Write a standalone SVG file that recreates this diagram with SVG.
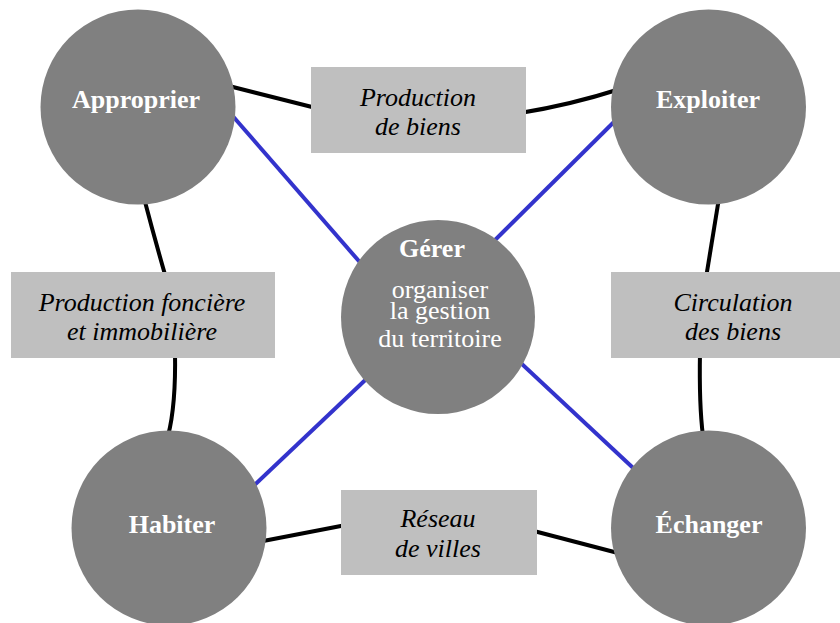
<svg xmlns="http://www.w3.org/2000/svg" width="840" height="623" viewBox="0 0 840 623">
<style>
.c{fill:#808080}
.b{fill:#bfbfbf}
.ct{font-family:"Liberation Serif","Times New Roman",serif;font-size:26px;fill:#ffffff;text-anchor:middle}
.bold{font-weight:bold}
.bt{font-family:"Liberation Serif","Times New Roman",serif;font-size:26px;font-style:italic;fill:#000000;text-anchor:middle}
.k{stroke:#000000;stroke-width:4;fill:none}
.u{stroke:#3333cc;stroke-width:4;fill:none}
</style>
<rect width="840" height="623" fill="#ffffff"/>
<g id="connectors">
<line class="u" x1="217" y1="98" x2="371" y2="275"/>
<line class="u" x1="627" y1="109" x2="483" y2="252"/>
<line class="u" x1="243" y1="496" x2="379" y2="367"/>
<line class="u" x1="509" y1="352" x2="646" y2="480"/>
<path class="k" d="M225,85 L316,108"/>
<path class="k" d="M520,113 Q570,105 620,89"/>
<path class="k" d="M144,198 Q155,240 166,278"/>
<path class="k" d="M719,198 Q712,240 706,278"/>
<path class="k" d="M175,352 Q176,405 168,436"/>
<path class="k" d="M700,352 Q699,405 703,436"/>
<path class="k" d="M258,542 L346,525"/>
<path class="k" d="M530,530 L618,553"/>
</g>
<g id="box-production-biens">
<rect class="b" x="311" y="67" width="215" height="86"/>
<text class="bt" x="418" y="106">Production</text>
<text class="bt" x="418" y="135">de biens</text>
</g>
<g id="box-production-fonciere">
<rect class="b" x="11" y="272" width="264" height="86"/>
<text class="bt" x="142" y="311">Production foncière</text>
<text class="bt" x="142" y="340">et immobilière</text>
</g>
<g id="box-circulation">
<rect class="b" x="611" y="272" width="244" height="86"/>
<text class="bt" x="733" y="311">Circulation</text>
<text class="bt" x="733" y="340">des biens</text>
</g>
<g id="box-reseau">
<rect class="b" x="341" y="490" width="196" height="85"/>
<text class="bt" x="438" y="527">Réseau</text>
<text class="bt" x="438" y="557">de villes</text>
</g>
<g id="node-approprier">
<circle class="c" cx="138" cy="107" r="97.5"/>
<text class="ct bold" x="136" y="108">Approprier</text>
</g>
<g id="node-exploiter">
<circle class="c" cx="708.5" cy="107" r="97.5"/>
<text class="ct bold" x="708" y="108">Exploiter</text>
</g>
<g id="node-habiter">
<circle class="c" cx="169" cy="528" r="97.5"/>
<text class="ct bold" x="172" y="533">Habiter</text>
</g>
<g id="node-echanger">
<circle class="c" cx="708.5" cy="528" r="97.5"/>
<text class="ct bold" x="709" y="533">Échanger</text>
</g>
<g id="node-gerer">
<circle class="c" cx="438" cy="317" r="97"/>
<text class="ct bold" x="432" y="257">Gérer</text>
<text class="ct" x="440" y="298">organiser</text>
<text class="ct" x="440" y="319">la gestion</text>
<text class="ct" x="440" y="347">du territoire</text>
</g>
</svg>
